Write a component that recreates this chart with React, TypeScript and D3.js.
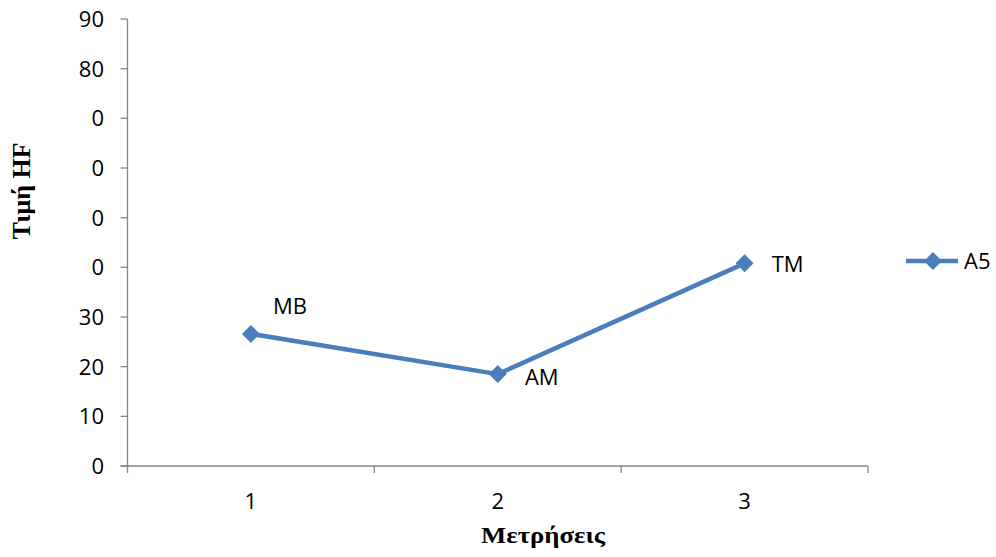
import React from "react";
import * as d3 from "d3";

const categories = ["1", "2", "3"];
const seriesName = "A5";
const values = [26.6, 18.5, 40.8];
const pointLabels = ["MB", "AM", "TM"];
const yTickValues = [0, 10, 20, 30, 40, 50, 60, 70, 80, 90];
const yTickLabels = ["0", "10", "20", "30", "0", "0", "0", "0", "80", "90"];
const yTitle = "Τιμή HF";
const xTitle = "Μετρήσεις";

export default function App() {
  const W = 996, H = 557;
  const left = 127.5, right = 868, top = 19, bottom = 466;
  const x = d3.scaleBand<string>().domain(categories).range([left, right]).padding(0);
  const y = d3.scaleLinear().domain([0, 90]).range([bottom, top]);
  const cx = (c: string) => (x(c) as number) + x.bandwidth() / 2;
  const line = d3.line<number>().x((_, i) => cx(categories[i])).y((v) => y(v));
  const axisColor = "#868686";
  const blue = "#4A7EBB";
  const font = "'Open Sans', 'Liberation Sans', Arial, sans-serif";
  const serif = "'Liberation Serif', 'Times New Roman', serif";
  const diamond = (px: number, py: number, r = 8) =>
    `M${px},${py - r}L${px + r},${py}L${px},${py + r}L${px - r},${py}Z`;
  const bandEdges = [...categories.map((c) => x(c) as number), right];
  const labelOffsets = [
    [39, -28],
    [44, 3],
    [43, 1],
  ];
  return (
    <svg width={W} height={H} style={{ position: "absolute", left: 0, top: 0, background: "#fff" }}>
      {/* y axis */}
      <line x1={left} x2={left} y1={top} y2={bottom} stroke={axisColor} strokeWidth={1.3} />
      {yTickValues.map((v, i) => (
        <g key={i}>
          <line x1={left - 7} x2={left} y1={y(v)} y2={y(v)} stroke={axisColor} strokeWidth={1.3} />
          <text x={104} y={y(v)} dy="0.36em" textAnchor="end" fontFamily={font} fontSize={22} fill="#000">
            {yTickLabels[i]}
          </text>
        </g>
      ))}
      {/* x axis */}
      <line x1={left - 7} x2={right} y1={bottom} y2={bottom} stroke={axisColor} strokeWidth={1.3} />
      {bandEdges.map((e, i) => (
        <line key={i} x1={e} x2={e} y1={bottom} y2={bottom + 7} stroke={axisColor} strokeWidth={1.3} />
      ))}
      {categories.map((c) => (
        <text key={c} x={cx(c)} y={509} textAnchor="middle" fontFamily={font} fontSize={22} fill="#000">
          {c}
        </text>
      ))}
      {/* series */}
      <path d={line(values) || ""} fill="none" stroke={blue} strokeWidth={4.5} strokeLinejoin="round" />
      {values.map((v, i) => (
        <path key={i} d={diamond(cx(categories[i]), y(v), 9)} fill={blue} />
      ))}
      {values.map((v, i) => (
        <text
          key={"l" + i}
          x={cx(categories[i]) + labelOffsets[i][0]}
          y={y(v) + labelOffsets[i][1]}
          dy="0.36em"
          textAnchor="middle"
          fontFamily={font}
          fontSize={22}
          fill="#000"
        >
          {pointLabels[i]}
        </text>
      ))}
      {/* legend */}
      <line x1={906} x2={958} y1={261} y2={261} stroke={blue} strokeWidth={4.5} />
      <path d={diamond(933, 261, 9)} fill={blue} />
      <text x={964} y={261} dy="0.36em" fontFamily={font} fontSize={22} fill="#000">
        {seriesName}
      </text>
      {/* titles */}
      <text
        transform={`translate(30,191) rotate(-90)`}
        textAnchor="middle"
        fontFamily={serif}
        fontWeight="bold"
        fontSize={25}
        textLength={97}
        lengthAdjust="spacingAndGlyphs"
        fill="#000"
      >
        {yTitle}
      </text>
      <text
        x={543}
        y={543}
        textAnchor="middle"
        fontFamily={serif}
        fontWeight="bold"
        fontSize={23}
        textLength={124}
        lengthAdjust="spacingAndGlyphs"
        fill="#000"
      >
        {xTitle}
      </text>
    </svg>
  );
}
